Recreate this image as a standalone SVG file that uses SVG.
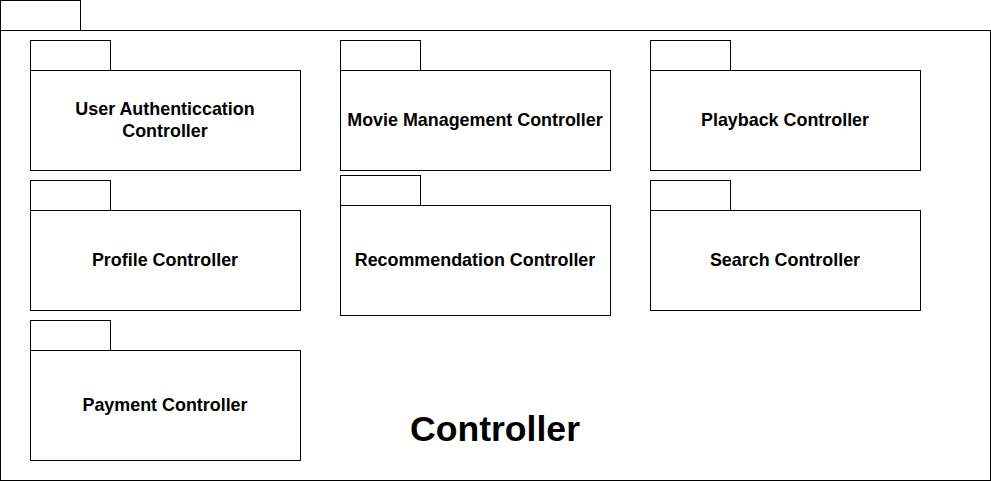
<svg xmlns="http://www.w3.org/2000/svg" width="991" height="481" viewBox="0 0 991 481">
<style>
.b{fill:#fff;stroke:#000;stroke-width:1}
.t{font-family:"Liberation Sans",Arial,sans-serif;font-weight:bold;font-size:17.9px;fill:#000;text-anchor:middle}
.big{font-family:"Liberation Sans",Arial,sans-serif;font-weight:bold;font-size:35.6px;fill:#000;text-anchor:middle}
</style>
<rect width="991" height="481" fill="#fff"/>
<g id="controller">
<rect class="b" x="0.5" y="0.5" width="80" height="30"/>
<rect class="b" x="0.5" y="30.5" width="990" height="450"/>
<text class="big" x="495" y="441">Controller</text>
</g>
<g id="user-auth">
<rect class="b" x="30.5" y="40.5" width="80" height="30"/>
<rect class="b" x="30.5" y="70.5" width="270" height="100"/>
<text class="t" x="165" y="115">User Authenticcation</text>
<text class="t" x="165" y="137">Controller</text>
</g>
<g id="movie-mgmt">
<rect class="b" x="340.5" y="40.5" width="80" height="30"/>
<rect class="b" x="340.5" y="70.5" width="270" height="100"/>
<text class="t" x="475" y="126">Movie Management Controller</text>
</g>
<g id="playback">
<rect class="b" x="650.5" y="40.5" width="80" height="30"/>
<rect class="b" x="650.5" y="70.5" width="270" height="100"/>
<text class="t" x="785" y="126">Playback Controller</text>
</g>
<g id="profile">
<rect class="b" x="30.5" y="180.5" width="80" height="30"/>
<rect class="b" x="30.5" y="210.5" width="270" height="100"/>
<text class="t" x="165" y="266">Profile Controller</text>
</g>
<g id="recommendation">
<rect class="b" x="340.5" y="175.5" width="80" height="30"/>
<rect class="b" x="340.5" y="205.5" width="270" height="110"/>
<text class="t" x="475" y="266">Recommendation Controller</text>
</g>
<g id="search">
<rect class="b" x="650.5" y="180.5" width="80" height="30"/>
<rect class="b" x="650.5" y="210.5" width="270" height="100"/>
<text class="t" x="785" y="266">Search Controller</text>
</g>
<g id="payment">
<rect class="b" x="30.5" y="320.5" width="80" height="30"/>
<rect class="b" x="30.5" y="350.5" width="270" height="110"/>
<text class="t" x="165" y="411">Payment Controller</text>
</g>
<g id="connectors"></g>
</svg>
